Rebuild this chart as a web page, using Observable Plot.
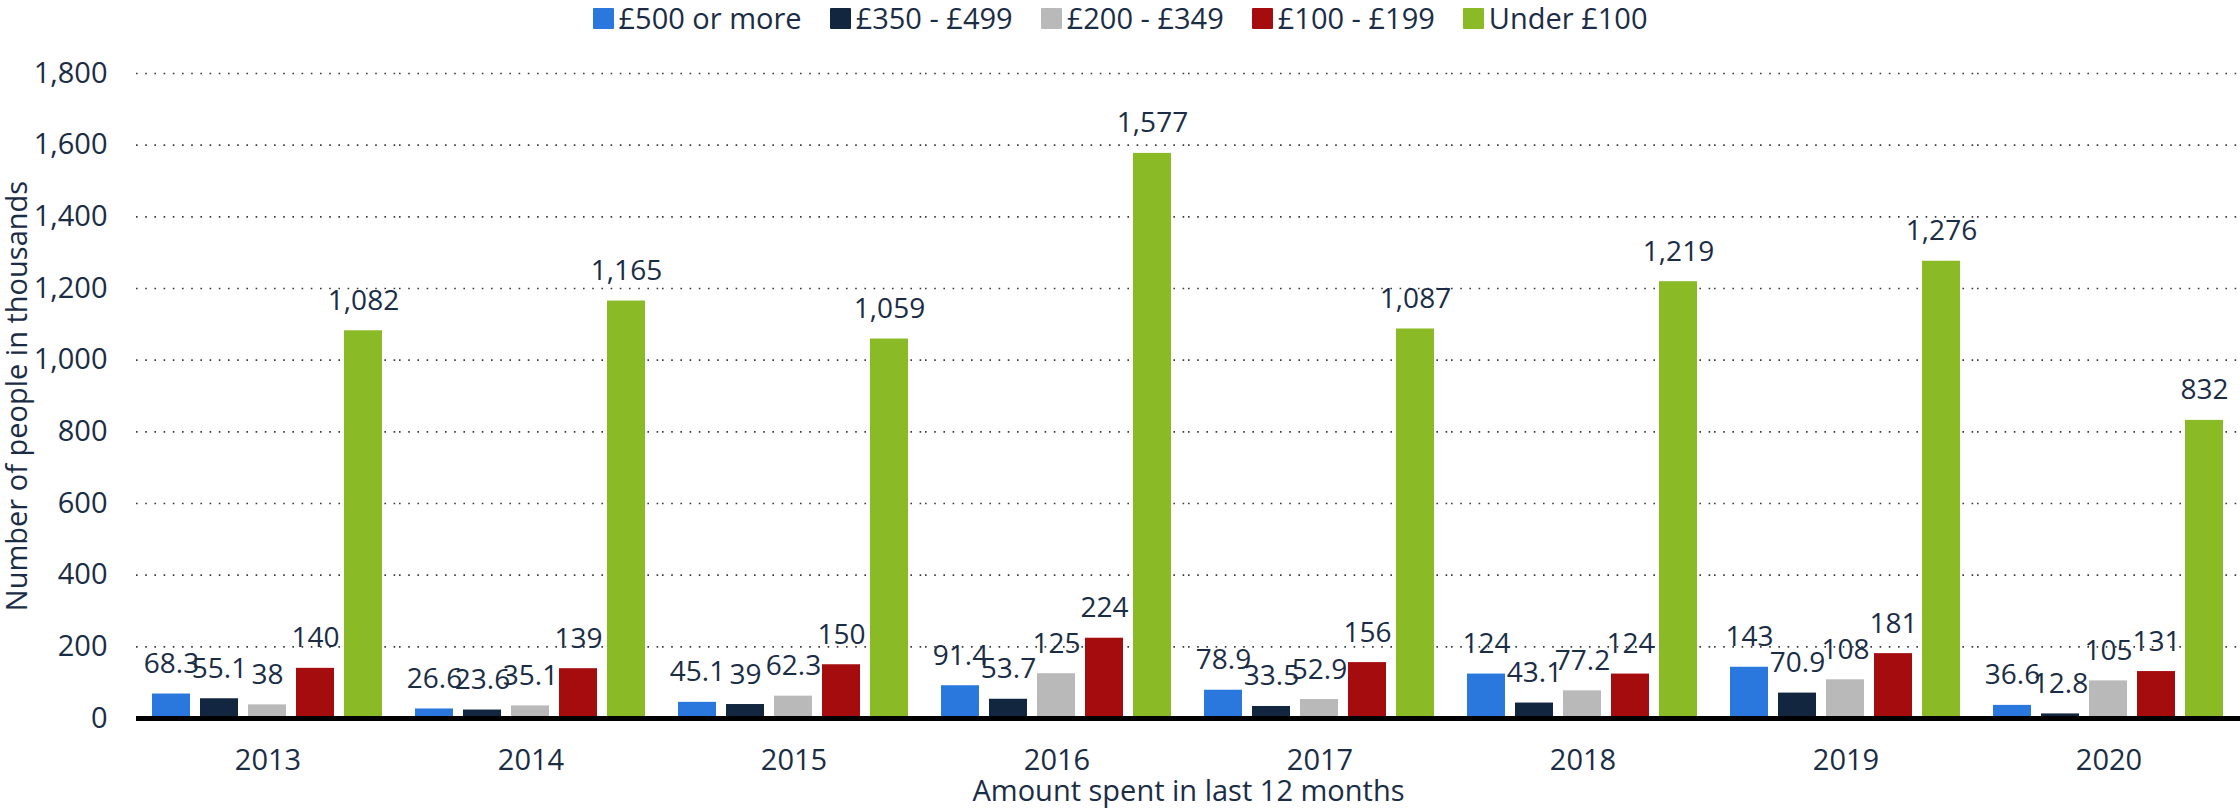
<!DOCTYPE html>
<html>
<head>
<meta charset="utf-8">
<script src="https://cdn.jsdelivr.net/npm/d3@7"></script>
<script src="https://cdn.jsdelivr.net/npm/@observablehq/plot@0.6"></script>
<style>
  html, body { margin: 0; padding: 0; background: #fff; }
  body { width: 2240px; height: 808px; overflow: hidden; font-family: "Open Sans", sans-serif; color: #1b2d45; }
  #legend { height: 36px; display: flex; justify-content: center; align-items: center; font-size: 29px; }
  #legend .item { display: flex; align-items: center; margin-right: 28px; }
  #legend .item:last-child { margin-right: 0; }
  #legend .sw { width: 21px; height: 21px; margin-right: 5px; border-radius: 1px; }
  #legend .lbl { line-height: 36px; }
</style>
</head>
<body>
<div id="legend"></div>
<div id="chart"></div>
<script>
const years = ["2013", "2014", "2015", "2016", "2017", "2018", "2019", "2020"];
const categories = ["£500 or more", "£350 - £499", "£200 - £349", "£100 - £199", "Under £100"];
const colors = ["#2a77dd", "#12263f", "#b9b9b9", "#a50c0e", "#8abb27"];
const s500plus = [68.3, 26.6, 45.1, 91.4, 78.9, 124, 143, 36.6];
const s350to499 = [55.1, 23.6, 39, 53.7, 33.5, 43.1, 70.9, 12.8];
const s200to349 = [38, 35.1, 62.3, 125, 52.9, 77.2, 108, 105];
const s100to199 = [140, 139, 150, 224, 156, 124, 181, 131];
const sUnder100 = [1082, 1165, 1059, 1577, 1087, 1219, 1276, 832];
const yTicks = [0, 200, 400, 600, 800, 1000, 1200, 1400, 1600, 1800];
const yLabel = "Number of people in thousands";
const xLabel = "Amount spent in last 12 months";

const series = [s500plus, s350to499, s200to349, s100to199, sUnder100];
const rows = [];
years.forEach((yr, i) => {
  categories.forEach((c, j) => rows.push({year: yr, cat: c, value: series[j][i]}));
});

const legend = document.getElementById("legend");
categories.forEach((c, j) => {
  const it = document.createElement("div");
  it.className = "item";
  const sw = document.createElement("div");
  sw.className = "sw";
  sw.style.background = colors[j];
  const lb = document.createElement("span");
  lb.className = "lbl";
  lb.textContent = c;
  it.appendChild(sw); it.appendChild(lb);
  legend.appendChild(it);
});

const fmt = d3.format(",");

const chart = Plot.plot({
  width: 2240,
  height: 772,
  marginLeft: 136,
  marginRight: 0,
  marginTop: 37,
  marginBottom: 90,
  style: {fontFamily: "Open Sans, sans-serif", fontSize: "28px", color: "#1b2d45", background: "#fff", overflow: "visible"},
  fx: {domain: years, paddingInner: 0, paddingOuter: 0},
  x: {domain: categories, paddingInner: 0.198, paddingOuter: 0.283, axis: null},
  y: {domain: [0, 1800]},
  color: {domain: categories, range: colors},
  marks: [
    Plot.gridY(yTicks.slice(1), {stroke: "#3a3a3a", strokeOpacity: 1, strokeWidth: 1.6, strokeDasharray: "1.6,7.6"}),
    Plot.barY(rows, {fx: "year", x: "cat", y: "value", fill: "cat"}),
    Plot.text(rows, {fx: "year", x: "cat", y: "value", text: d => fmt(d.value), lineAnchor: "bottom", dy: -21, fontSize: 28, fill: "#1b2d45"}),
    Plot.ruleY([0], {stroke: "#000", strokeWidth: 5}),
    Plot.axisY({ticks: yTicks, tickSize: 0, tickPadding: 29, fontSize: 29, label: yLabel, labelAnchor: "center", labelOffset: 130, labelArrow: "none"}),
    Plot.axisFx({anchor: "bottom", tickSize: 0, tickPadding: 31, fontSize: 29, label: xLabel, labelAnchor: "center", labelOffset: 82, labelArrow: "none"})
  ]
});
document.getElementById("chart").appendChild(chart);
</script>
</body>
</html>
